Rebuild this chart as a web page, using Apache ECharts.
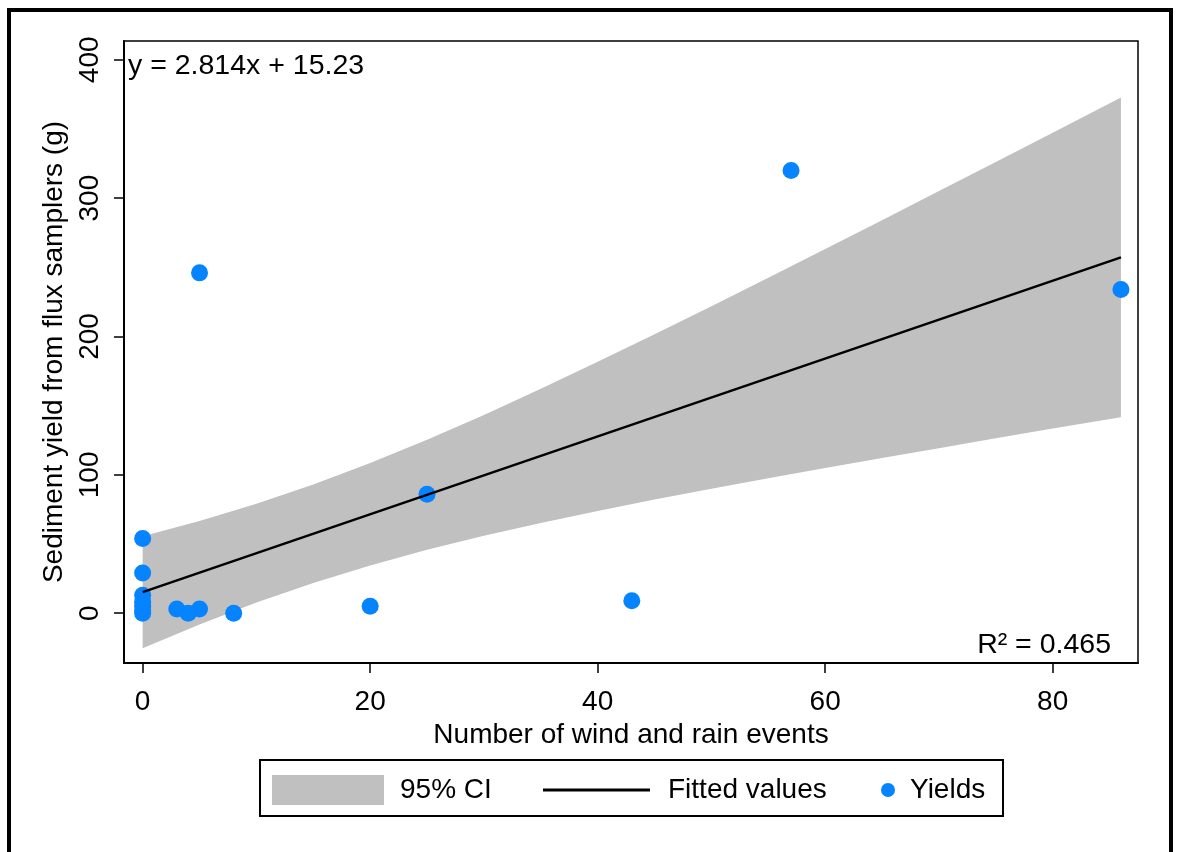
<!DOCTYPE html>
<html>
<head>
<meta charset="utf-8">
<script src="https://cdn.jsdelivr.net/npm/echarts@6/dist/echarts.min.js"></script>
<style>
  html, body { margin: 0; padding: 0; background: #fff; }
  #chart { width: 1179px; height: 852px; }
</style>
</head>
<body>
<div id="chart"></div>
<script>
// yields (scatter)
const eventsX = [0, 0, 0, 0, 0, 0, 0, 3, 4, 5, 8, 5, 20, 25, 43, 57, 86];
const yieldsY = [54, 29, 13, 8, 5, 2, 0, 3, 0, 3, 0, 246, 5, 86, 9, 320, 234];

// fitted line
const fitX = [0, 86];
const fitY = [15.2, 257.2];

// 95% CI band, read along the edges
const bandX    = [0, 5, 10, 15, 20, 25, 30, 35, 40, 45, 50, 55, 60, 65, 70, 75, 80, 86];
const bandLow  = [-25.3, -8.1, 7.7, 21.8, 34.5, 45.8, 55.9, 65.2, 73.9, 82.1, 89.9, 97.5, 104.9, 112.2, 119.3, 126.4, 133.5, 141.7];
const bandHigh = [55.7, 66.7, 79.1, 93.0, 108.5, 125.4, 143.3, 162.2, 181.7, 201.7, 221.9, 242.5, 263.3, 284.0, 305.1, 326.2, 347.3, 372.7];

const xTicks = [0, 20, 40, 60, 80];
const yTicks = [0, 100, 200, 300, 400];

const FONT = "'Liberation Sans', Arial, sans-serif";
const BAND = '#c0c0c0';
const DOT = '#0683ff';

const chart = echarts.init(document.getElementById('chart'));

const bandData = bandX.map((x, i) => [x, bandLow[i], bandHigh[i]]);

const legendText = { fontSize: 28, color: '#000', fontFamily: FONT };

const option = {
  animation: false,
  textStyle: { fontFamily: FONT },
  grid: {
    left: 124, top: 41, right: 41, bottom: 189,
    show: true, borderColor: '#000', borderWidth: 1.5
  },
  xAxis: {
    type: 'value',
    min: -1.64, max: 87.5,
    name: 'Number of wind and rain events',
    nameLocation: 'middle',
    nameGap: 53,
    nameTextStyle: { fontSize: 28, color: '#000', fontFamily: FONT },
    axisLine: { onZero: false, lineStyle: { color: '#000', width: 2 } },
    axisTick: { show: true, length: 10, customValues: xTicks, lineStyle: { color: '#000', width: 1.5 } },
    axisLabel: { customValues: xTicks, margin: 25, fontSize: 28, color: '#000', fontFamily: FONT },
    splitLine: { show: false }
  },
  yAxis: {
    type: 'value',
    min: -36, max: 413.6,
    name: 'Sediment yield from flux samplers (g)',
    nameLocation: 'middle',
    nameRotate: 90,
    nameGap: 52,
    nameTextStyle: { fontSize: 28, color: '#000', fontFamily: FONT },
    axisLine: { onZero: false, lineStyle: { color: '#000', width: 2 } },
    axisTick: { show: true, length: 10, customValues: yTicks, lineStyle: { color: '#000', width: 1.5 } },
    axisLabel: { customValues: yTicks, rotate: 90, margin: 20, fontSize: 28, color: '#000', fontFamily: FONT },
    splitLine: { show: false }
  },
  legend: [
    {
      data: [{ name: '95% CI', icon: 'rect' }],
      left: 272, top: 775, padding: 0, itemWidth: 112, itemHeight: 30,
      selectedMode: false,
      textStyle: Object.assign({ padding: [0, 0, 0, 11] }, legendText)
    },
    {
      data: [{ name: 'Fitted values', icon: 'rect', itemStyle: { color: '#000' } }],
      left: 543, top: 776, padding: 0, itemWidth: 107, itemHeight: 3,
      selectedMode: false,
      textStyle: Object.assign({ padding: [0, 0, 0, 13] }, legendText)
    },
    {
      data: [{ name: 'Yields', icon: 'circle' }],
      left: 881, top: 776, padding: 0, itemWidth: 14, itemHeight: 14,
      selectedMode: false,
      textStyle: Object.assign({ padding: [0, 0, 0, 10] }, legendText)
    }
  ],
  graphic: [
    {
      type: 'rect', silent: true, z: -1,
      shape: { x: 9, y: 10, width: 1162, height: 900 },
      style: { fill: 'none', stroke: '#000', lineWidth: 4 }
    },
    {
      type: 'rect', silent: true,
      shape: { x: 260, y: 760, width: 743, height: 56 },
      style: { fill: 'none', stroke: '#000', lineWidth: 2 }
    },
    {
      type: 'text', left: 128, top: 52,
      style: { text: 'y = 2.814x + 15.23', font: '28.5px ' + FONT, fill: '#000' }
    },
    {
      type: 'text', right: 1179 - 1111, top: 631,
      style: { text: 'R\u00b2 = 0.465', font: '28.5px ' + FONT, fill: '#000' }
    }
  ],
  series: [
    {
      name: '95% CI',
      type: 'custom',
      clip: true,
      itemStyle: { color: BAND },
      encode: { x: 0, y: [1, 2] },
      data: bandData,
      renderItem: function (params, api) {
        if (params.dataIndex !== 0) return null;
        const top = bandData.map(d => api.coord([d[0], d[2]]));
        const bot = bandData.map(d => api.coord([d[0], d[1]])).reverse();
        return {
          type: 'polygon',
          shape: { points: top.concat(bot) },
          style: { fill: BAND }
        };
      }
    },
    {
      name: 'Fitted values',
      type: 'line',
      symbol: 'none',
      showSymbol: false,
      color: '#000',
      lineStyle: { color: '#000', width: 2.5 },
      data: fitX.map((x, i) => [x, fitY[i]])
    },
    {
      name: 'Yields',
      type: 'scatter',
      symbolSize: 17,
      itemStyle: { color: DOT, opacity: 1 },
      data: eventsX.map((x, i) => [x, yieldsY[i]])
    }
  ]
};

chart.setOption(option);
</script>
</body>
</html>
